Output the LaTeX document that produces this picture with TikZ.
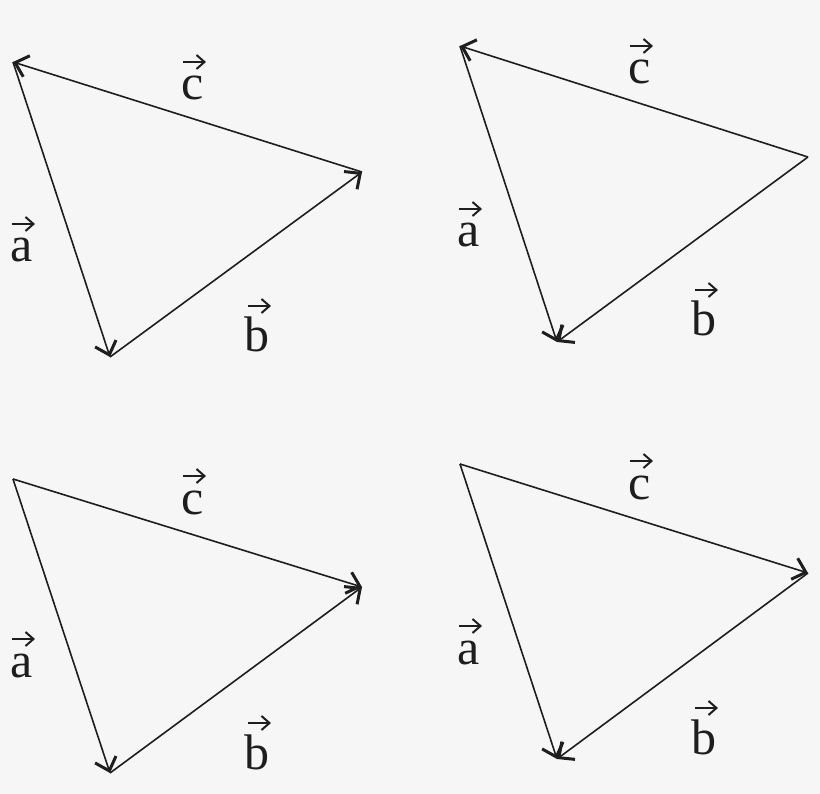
\documentclass[tikz,border=0pt]{standalone}
\usepackage{fontspec}
\setmainfont{Liberation Serif}
\usetikzlibrary{arrows.meta}
\definecolor{bg}{RGB}{246,246,246}
\definecolor{ink}{RGB}{30,30,30}
\tikzset{
  side/.style={draw=ink, line width=1.6pt, -{Straight Barb[length=12pt,width=22pt,line width=3pt]}},
  lab/.style={inner sep=0pt, anchor=base, text=ink, font=\fontsize{50}{50}\selectfont},
  vecarr/.style={draw=ink, line width=1.6pt, -{Straight Barb[length=8pt,width=14pt,line width=2pt]}}
}
\begin{document}
\begin{tikzpicture}[x=1pt,y=-1pt]
\fill[bg] (0,0) rectangle (820,794);
\useasboundingbox (0,0) rectangle (820,794);
% ---------- top-left ----------
\begin{scope}[shift={(0,0)}]
\coordinate (A1) at (13,62);
\coordinate (B1) at (110,357);
\coordinate (C1) at (362,172);
\draw[side] (A1) -- (B1);
\draw[side] (B1) -- (C1);
\draw[side] (C1) -- (A1);
\node[lab] (c1) at (193,100) {c};
\node[lab] (a1) at (22,262) {a};
\node[lab] (b1) at (257,352) {b};
\end{scope}
% ---------- top-right ----------
\begin{scope}[shift={(447,-16)}]
\coordinate (A2) at (13,62);
\coordinate (B2) at (110,358);
\coordinate (C2) at (361,173);
\draw[side] (A2) -- (B2);
\draw[side] (C2) -- (B2);
\draw[side] (C2) -- (A2);
\node[lab] (c2) at (193,100) {c};
\node[lab] (a2) at (22,263) {a};
\node[lab] (b2) at (257,352) {b};
\end{scope}
% ---------- bottom-left ----------
\begin{scope}[shift={(0,417)}]
\coordinate (A3) at (13,62);
\coordinate (B3) at (110,356);
\coordinate (C3) at (362,170);
\draw[side] (A3) -- (B3);
\draw[side] (B3) -- (C3);
\draw[side] (A3) -- (C3);
\node[lab] (c3) at (193,97) {c};
\node[lab] (a3) at (22,260) {a};
\node[lab] (b3) at (257,352) {b};
\end{scope}
% ---------- bottom-right ----------
\begin{scope}[shift={(447,402)}]
\coordinate (A4) at (13,62);
\coordinate (B4) at (110,357);
\coordinate (C4) at (361,171);
\draw[side] (A4) -- (B4);
\draw[side] (C4) -- (B4);
\draw[side] (A4) -- (C4);
\node[lab] (c4) at (193,97) {c};
\node[lab] (a4) at (22,262) {a};
\node[lab] (b4) at (257,352) {b};
\end{scope}
% vector arrows over letters
\foreach \n in {1,2,3,4}{
  \draw[vecarr] ([xshift=-10pt,yshift=38pt]c\n.base) -- ([xshift=13pt,yshift=38pt]c\n.base);
  \draw[vecarr] ([xshift=-10pt,yshift=38pt]a\n.base) -- ([xshift=13pt,yshift=38pt]a\n.base);
  \draw[vecarr] ([xshift=-9pt,yshift=46pt]b\n.base) -- ([xshift=14pt,yshift=46pt]b\n.base);
}
\end{tikzpicture}
\end{document}
